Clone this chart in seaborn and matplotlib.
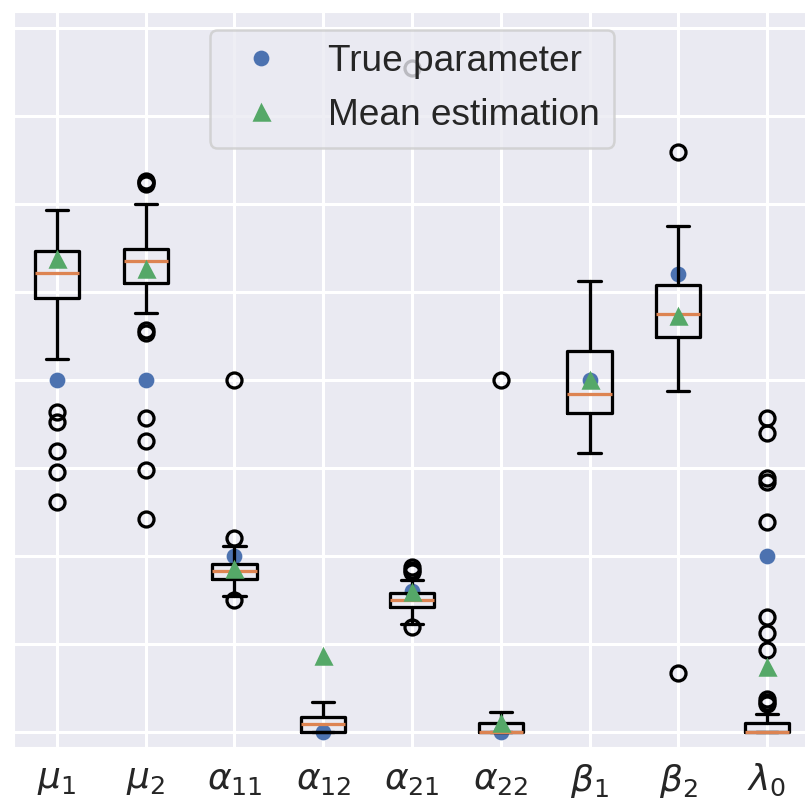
import matplotlib
matplotlib.use("Agg")
import matplotlib.pyplot as plt
import seaborn as sns

# parameter names on the x axis
params = [r"$\mu_1$", r"$\mu_2$", r"$\alpha_{11}$", r"$\alpha_{12}$", r"$\alpha_{21}$",
          r"$\alpha_{22}$", r"$\beta_1$", r"$\beta_2$", r"$\lambda_0$"]

# true parameter values (blue dots)
true_vals = [4.0, 4.0, 2.0, 0.0, 1.6, 0.0, 4.0, 5.2, 2.0]

# box statistics of the estimates
q1 = [4.93, 5.10, 1.73, 0.0, 1.42, 0.0, 3.62, 4.48, 0.0]
med = [5.21, 5.35, 1.82, 0.085, 1.50, 0.0, 3.84, 4.75, 0.0]
q3 = [5.46, 5.48, 1.90, 0.168, 1.57, 0.093, 4.32, 5.07, 0.094]
whislo = [4.23, 4.76, 1.54, 0.0, 1.22, 0.0, 3.17, 3.87, 0.0]
whishi = [5.93, 6.00, 2.11, 0.33, 1.72, 0.225, 5.12, 5.75, 0.20]
means = [5.37, 5.26, 1.85, 0.86, 1.59, 0.10, 4.00, 4.72, 0.73]
fliers = [
    [3.63, 3.52, 3.19, 2.95, 2.61],
    [6.26, 6.24, 6.22, 4.56, 4.53, 3.56, 3.30, 2.97, 2.42],
    [2.20, 1.50, 4.0],
    [],
    [7.54, 1.87, 1.84, 1.81, 1.19],
    [4.0],
    [],
    [6.59, 0.67],
    [3.56, 3.39, 2.88, 2.84, 2.38, 1.30, 1.12, 0.93, 0.37, 0.33, 0.315],
]

sns.set_theme(style="darkgrid", rc={"grid.linewidth": 1.2})
plt.rcParams["font.family"] = ["Liberation Sans", "DejaVu Sans"]

DPI = 180
fig = plt.figure(figsize=(805 / DPI, 810 / DPI), dpi=DPI)
ax = fig.add_axes([12.6 / 805, 62 / 810, 798.8 / 805, 737 / 810])

positions = list(range(1, len(params) + 1))

# true values first, boxes go on top
true_line, = ax.plot(positions, true_vals, "o", color="C0", ms=6.3, mew=0,
                     label="True parameter")

stats = []
for i in range(len(params)):
    stats.append(dict(q1=q1[i], med=med[i], q3=q3[i], whislo=whislo[i],
                      whishi=whishi[i], mean=means[i], fliers=fliers[i],
                      label=params[i]))
lw = 1.3
bp = ax.bxp(stats, positions=positions, showmeans=True,
            boxprops=dict(linewidth=lw, color="black"),
            whiskerprops=dict(linewidth=lw, color="black"),
            capprops=dict(linewidth=lw, color="black"),
            medianprops=dict(linewidth=lw, color="C1"),
            flierprops=dict(marker="o", markersize=6, markeredgewidth=lw,
                            markerfacecolor="none", markeredgecolor="black"))
bp["means"][0].set_label("Mean estimation")

ax.set_xlim(0.5, 9.5)
ax.set_ylim(-0.1875, 8.1875)
ax.set_yticks(range(0, 9))
ax.set_yticklabels([])
ax.tick_params(axis="x", labelsize=14.4, pad=-0.5)

ax.legend(handles=[true_line, bp["means"][0]], loc="upper center", fontsize=14.8)
ax.set_title("(b)", fontsize=24.8, x=0.63, pad=9.8)

fig.savefig("out.png", dpi=DPI)
